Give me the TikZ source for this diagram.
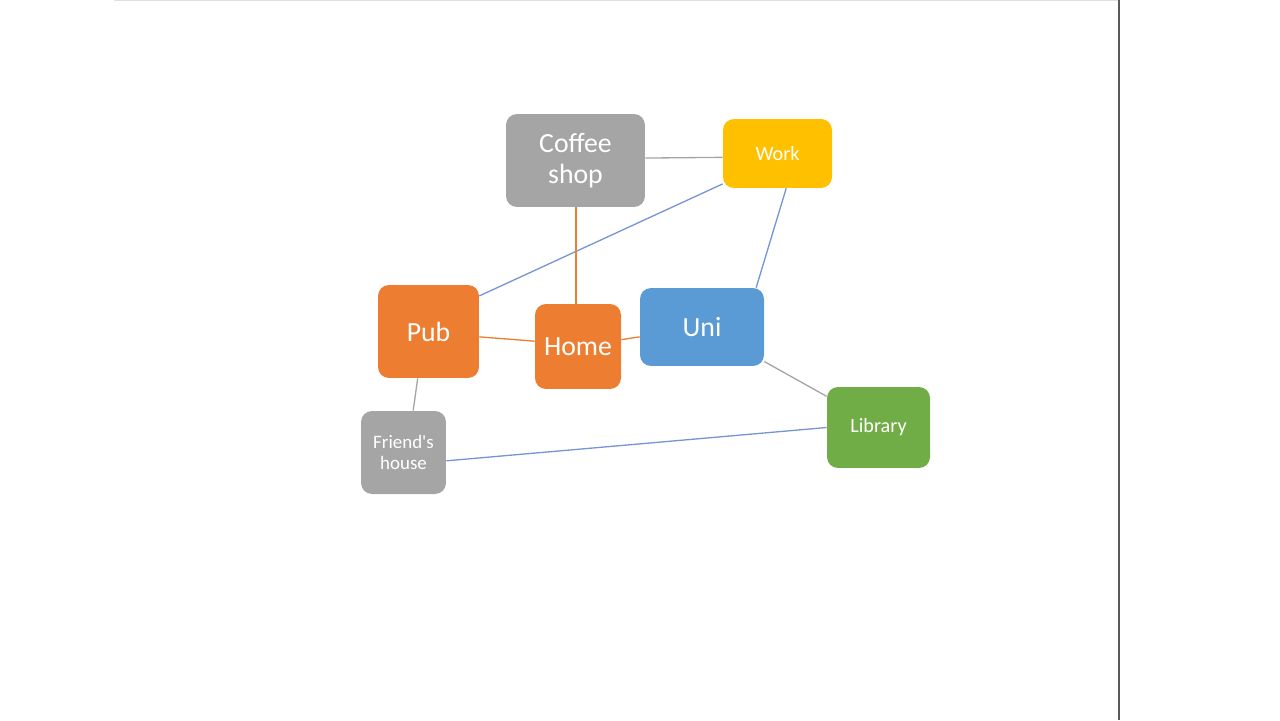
\documentclass[tikz,border=0pt]{standalone}
\usepackage{fontspec}
\setmainfont{Carlito}
\usepackage{xcolor}
\usetikzlibrary{positioning, calc}

\definecolor{placegray}{HTML}{A5A5A5}
\definecolor{placeorange}{HTML}{ED7D31}
\definecolor{placeblue}{HTML}{5B9BD5}
\definecolor{placegold}{HTML}{FFC000}
\definecolor{placegreen}{HTML}{70AD47}
\definecolor{linkblue}{HTML}{7695D6}

\begin{document}
\begin{tikzpicture}[
    x=0.02cm, y=-0.02cm,
    place/.style={rectangle, rounded corners=0.22cm, text=white, align=center, inner sep=0pt},
    bigtext/.style={font=\fontsize{15.8}{18}\selectfont},
    smalltext/.style={font=\fontsize{11.5}{12}\selectfont},
    link/.style={line width=0.75pt}
]
\useasboundingbox (0,0) rectangle (1280,720);

% slide edges
\draw[black!12, line width=1.2pt] (114,0) -- (1118,0);
\draw[black!65, line width=0.9pt] (1119,0) -- (1119,720);

% places
\node[place, bigtext, fill=placegray, minimum width=2.78cm, minimum height=1.86cm] (coffee) at (575.5,160.5) {Coffee\\shop};
\node[place, smalltext, fill=placegold, minimum width=2.18cm, minimum height=1.38cm] (work) at (777.5,153.5) {Work};
\node[place, bigtext, fill=placeorange, minimum width=2.02cm, minimum height=1.86cm] (pub) at (428.5,331.5) {Pub};
\node[place, bigtext, fill=placeorange, minimum width=1.72cm, minimum height=1.70cm] (home) at (578,346.5) {Home};
\node[place, bigtext, fill=placeblue, minimum width=2.48cm, minimum height=1.56cm] (uni) at (702,327) {Uni};
\node[place, smalltext, font=\fontsize{10.8}{11.9}\selectfont, fill=placegray, minimum width=1.70cm, minimum height=1.66cm] (friend) at (403.5,452.5) {Friend\textquotesingle s\\house};
\node[place, smalltext, fill=placegreen, minimum width=2.06cm, minimum height=1.62cm] (library) at (878.5,427.5) {Library};

% links between places
\foreach \from/\to/\col in {coffee.2/work.184/placegray, pub.35/work.209/linkblue,
    pub.354/home.173/placeorange, home.9/uni.189/placeorange, work.284/uni.36/linkblue,
    pub.257/friend.77/placegray, friend.349/library.west/linkblue, uni.331/library.149/placegray} {
    \draw[link, \col] (\from) -- (\to);
}
\draw[link, placeorange] ([xshift=0.01cm]coffee.south) -- ([xshift=0.01cm]coffee.south |- home.north);

\end{tikzpicture}
\end{document}
